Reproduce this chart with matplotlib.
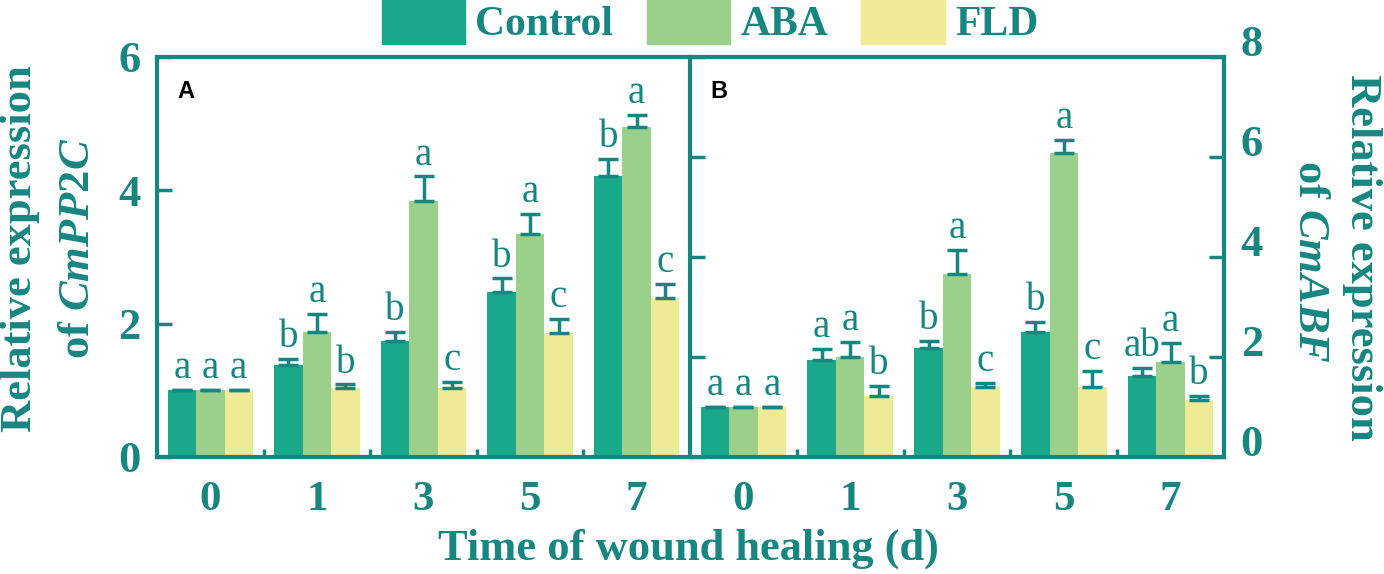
import matplotlib
matplotlib.use("Agg")
import matplotlib.pyplot as plt
import matplotlib.patches as mpatches
from matplotlib.transforms import ScaledTranslation
import numpy as np

DAYS = ["0", "1", "3", "5", "7"]
GROUPS = ["Control", "ABA", "FLD"]

# panel A: CmPP2C
pp2c_mean = {
    "Control": [1.00, 1.38, 1.74, 2.48, 4.21],
    "ABA":     [1.00, 1.87, 3.84, 3.35, 4.95],
    "FLD":     [1.00, 1.04, 1.03, 1.86, 2.38],
}
pp2c_err = {
    "Control": [0.01, 0.09, 0.14, 0.20, 0.26],
    "ABA":     [0.01, 0.28, 0.37, 0.30, 0.18],
    "FLD":     [0.01, 0.05, 0.10, 0.21, 0.22],
}
pp2c_sig = {
    "Control": ["a", "b", "b", "b", "b"],
    "ABA":     ["a", "a", "a", "a", "a"],
    "FLD":     ["a", "b", "c", "c", "c"],
}

# panel B: CmABF
abf_mean = {
    "Control": [1.00, 1.95, 2.19, 2.50, 1.62],
    "ABA":     [1.00, 2.01, 3.67, 6.08, 1.91],
    "FLD":     [1.00, 1.22, 1.40, 1.41, 1.15],
}
abf_err = {
    "Control": [0.01, 0.21, 0.14, 0.20, 0.16],
    "ABA":     [0.01, 0.30, 0.47, 0.27, 0.37],
    "FLD":     [0.01, 0.20, 0.09, 0.32, 0.08],
}
abf_sig = {
    "Control": ["a", "a", "b", "b", "ab"],
    "ABA":     ["a", "a", "a", "a", "a"],
    "FLD":     ["a", "b", "c", "c", "b"],
}

COLORS = {"Control": "#19a88a", "ABA": "#9bd08a", "FLD": "#eeea96"}
TEAL = "#178680"
SERIF = "Liberation Serif"

plt.rcParams["font.family"] = SERIF
plt.rcParams["mathtext.fontset"] = "custom"
plt.rcParams["mathtext.it"] = "Liberation Serif:italic:bold"
plt.rcParams["mathtext.rm"] = "Liberation Serif:bold"

W, H = 1384, 574
fig = plt.figure(figsize=(W / 100, H / 100), dpi=100)
L, M, R = 157 / W, 690 / W, 1224 / W
B, T = 1 - 457 / H, 1 - 57 / H
ax_a = fig.add_axes([L, B, M - L, T - B])
ax_b = fig.add_axes([M, B, R - M, T - B])

x = np.arange(len(DAYS))
w = 0.8 / 3


def draw_panel(ax, means, errs, sigs, ymax):
    for k, g in enumerate(GROUPS):
        xs = x + (k - 1) * w
        m = np.array(means[g])
        e = np.array(errs[g])
        ax.bar(xs, m, width=w, color=COLORS[g], linewidth=0, zorder=2)
        ax.errorbar(xs, m, yerr=[np.zeros_like(e), e], fmt="none",
                    ecolor=TEAL, elinewidth=2.5, capsize=7, capthick=2.5, zorder=3)
        for xi, top, s in zip(xs, m + e, sigs[g]):
            ax.annotate(s, (xi, top), xytext=(0, 2), textcoords="offset points",
                        ha="center", va="bottom", fontsize=28, color=TEAL,
                        family=SERIF)
    ax.set_xlim(-0.5, len(DAYS) - 0.5)
    ax.set_ylim(0, ymax)
    ax.set_xticks(x)
    ax.set_xticklabels(DAYS, fontsize=31, fontweight="bold", color=TEAL)
    ax.set_xticks(x[:-1] + 0.5, minor=True)
    ax.tick_params(axis="x", which="major", length=0, pad=17)
    ax.tick_params(axis="x", which="minor", direction="in", length=6,
                   width=2.5, color=TEAL)
    for sp in ax.spines.values():
        sp.set_color(TEAL)
        sp.set_linewidth(3)


draw_panel(ax_a, pp2c_mean, pp2c_err, pp2c_sig, 6)
draw_panel(ax_b, abf_mean, abf_err, abf_sig, 8)

ax_a.set_yticks([0, 2, 4, 6])
ax_a.set_yticklabels(["0", "2", "4", "6"], fontsize=32, fontweight="bold", color=TEAL)
ax_a.tick_params(axis="y", direction="in", length=11, width=2.5, color=TEAL, pad=12)
ax_a.spines["right"].set_visible(False)

ax_b.set_yticks([0, 2, 4, 6, 8])
ax_b.set_yticklabels(["0", "2", "4", "6", "8"], fontsize=32, fontweight="bold", color=TEAL)
ax_b.tick_params(axis="y", direction="in", length=11, width=2.5, color=TEAL,
                 left=True, right=True, labelleft=False, labelright=True, pad=12)
shift = ScaledTranslation(0, 17 / 100, fig.dpi_scale_trans)
for lab in ax_b.get_yticklabels(which="major"):
    lab.set_transform(lab.get_transform() + shift)

for ax, name in [(ax_a, "A"), (ax_b, "B")]:
    ax.text(0.039, 0.8975, name, transform=ax.transAxes, fontsize=17,
            fontweight="bold", family="Liberation Sans", color="black",
            va="baseline")

# axis titles
lab_kw = dict(fontsize=32, fontweight="bold", color=TEAL, ha="center", va="center")
fig.text(20 / W, 1 - 249 / H, "Relative expression", rotation=90, **lab_kw)
fig.text(78 / W, 1 - 248 / H, r"of $\mathit{CmPP2C}$", rotation=90, **lab_kw)
fig.text(1362 / W, 1 - 257 / H, "Relative expression", rotation=270, **lab_kw)
fig.text(1310 / W, 1 - 261 / H, r"of $\mathit{CmABF}$", rotation=270, **lab_kw)
fig.text(688 / W, 1 - 549 / H, "Time of wound healing (d)", **lab_kw)

handles = [mpatches.Patch(color=COLORS[g], label=g) for g in GROUPS]
leg = fig.legend(handles=handles, loc="center", bbox_to_anchor=(710 / W, 1 - 21 / H),
                 ncol=3, frameon=False, handlelength=2.0, handleheight=1.3,
                 columnspacing=0.8, handletextpad=0.25, borderpad=0,
                 borderaxespad=0,
                 prop={"family": SERIF, "weight": "bold", "size": 30})
for t in leg.get_texts():
    t.set_color(TEAL)

fig.savefig("out.png", dpi=100)
